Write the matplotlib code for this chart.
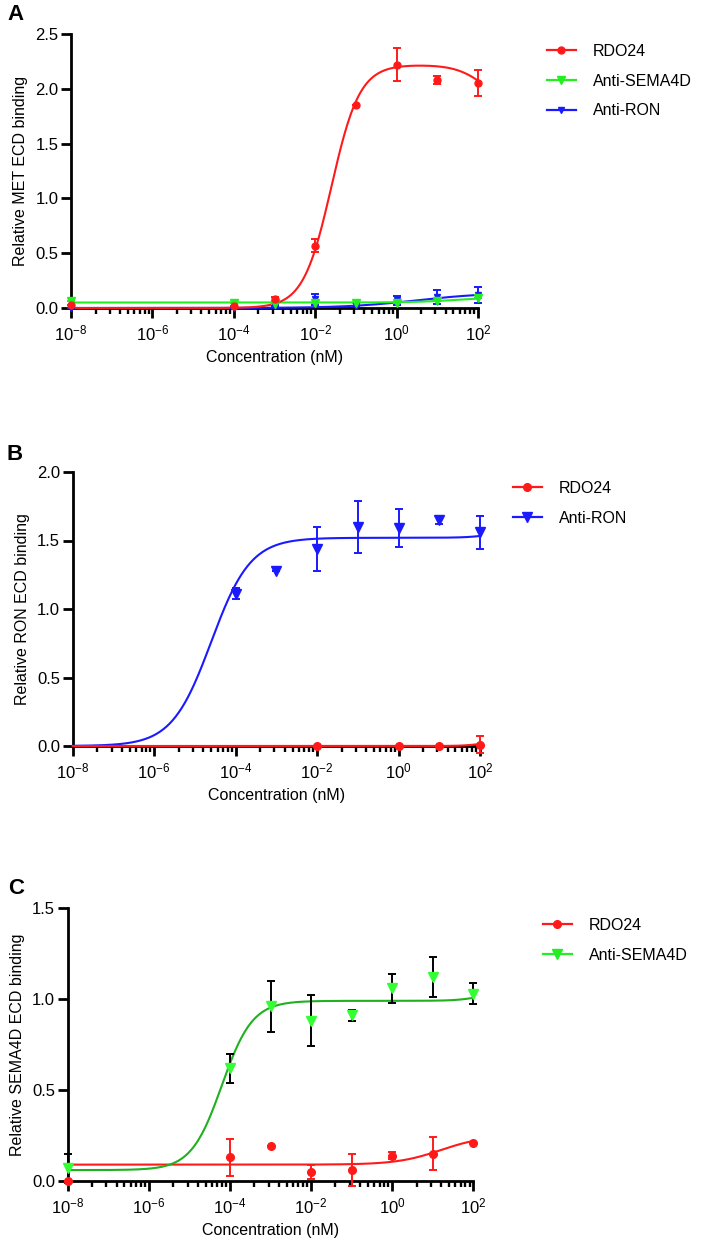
import numpy as np
import matplotlib
matplotlib.use("Agg")
import matplotlib.pyplot as plt
from matplotlib.lines import Line2D
from matplotlib.ticker import FixedLocator, FuncFormatter, MultipleLocator, FormatStrFormatter

plt.rcParams["font.family"] = ["Liberation Sans", "DejaVu Sans"]
plt.rcParams["mathtext.fontset"] = "custom"
plt.rcParams["mathtext.rm"] = "Liberation Sans"
plt.rcParams["mathtext.it"] = "Liberation Sans"

RED = "#ff1a1a"
GREEN = "#22ee22"
GREEN_FIT = "#20b020"
BLUE = "#1a1aff"

conc = [1e-8, 1e-4, 1e-3, 1e-2, 1e-1, 1, 10, 100]

# ---- panel A: MET ECD ----
a_rdo24 = [0.03, 0.02, 0.08, 0.57, 1.85, 2.22, 2.08, 2.05]
a_rdo24_err = [0.0, 0.0, 0.02, 0.06, 0.0, 0.15, 0.04, 0.12]
a_sema = [0.06, 0.05, 0.04, 0.05, 0.05, 0.05, 0.06, 0.09]
a_sema_err = [0.0, 0.0, 0.0, 0.0, 0.0, 0.0, 0.0, 0.0]
a_ron = [0.0, 0.0, 0.02, 0.08, 0.02, 0.07, 0.10, 0.12]
a_ron_err = [0.0, 0.0, 0.0, 0.05, 0.0, 0.04, 0.06, 0.07]

# ---- panel B: RON ECD ----
b_ron_x = [1e-4, 1e-3, 1e-2, 1e-1, 1, 10, 100]
b_ron = [1.11, 1.28, 1.44, 1.60, 1.59, 1.65, 1.56]
b_ron_err = [0.04, 0.0, 0.16, 0.19, 0.14, 0.03, 0.12]
b_rdo24_x = [1e-2, 1, 10, 100]
b_rdo24 = [0.0, 0.0, 0.0, 0.01]
b_rdo24_err = [0.0, 0.0, 0.0, 0.06]

# ---- panel C: SEMA4D ECD ----
c_sema = [0.07, 0.62, 0.96, 0.88, 0.91, 1.06, 1.12, 1.03]
c_sema_err = [0.08, 0.08, 0.14, 0.14, 0.03, 0.08, 0.11, 0.06]
c_rdo24 = [0.0, 0.13, 0.19, 0.05, 0.06, 0.14, 0.15, 0.21]
c_rdo24_err = [0.0, 0.10, 0.0, 0.04, 0.09, 0.02, 0.09, 0.0]

# fitted curves: bottom + sum of (amplitude, logEC50, hill) terms
a_rdo24_fit = (0.0, [(2.22, -1.6, 1.25), (-0.4, 2.2, 1.2)])
a_sema_fit = (0.05, [(0.05, 1.5, 0.8)])
a_ron_fit = (0.0, [(0.14, 0.5, 0.5)])
b_ron_fit = (0.0, [(1.52, -4.6, 0.9), (0.05, 2.3, 1.5)])
b_rdo24_fit = (0.0, [(0.03, 2.0, 2.0)])
c_sema_fit = (0.06, [(0.93, -4.2, 1.15), (0.05, 2.2, 1.5)])
c_rdo24_fit = (0.09, [(0.16, 1.2, 0.8)])


def fit_curve(logx, params):
    bottom, terms = params
    y = np.full_like(logx, bottom)
    for amp, ec50, hill in terms:
        y = y + amp / (1 + 10 ** ((ec50 - logx) * hill))
    return y


xs = np.linspace(-8, 2, 400)

fig = plt.figure(figsize=(7.01, 12.52), dpi=100)
H = 1252.0
W = 701.0
FS = 11.5


def style_axis(ax, ymax, ylabel):
    ax.set_xscale("log")
    ax.set_xlim(1e-8, 1e2)
    ax.set_ylim(0, ymax)
    for s in ["top", "right"]:
        ax.spines[s].set_visible(False)
    for s in ["left", "bottom"]:
        ax.spines[s].set_linewidth(2.0)
    majors = [1e-8, 1e-6, 1e-4, 1e-2, 1e0, 1e2]
    minors = [d * k ** 2 for d in majors[:-1] for k in range(2, 10)]
    ax.xaxis.set_major_locator(FixedLocator(majors))
    ax.xaxis.set_minor_locator(FixedLocator(minors))
    ax.xaxis.set_major_formatter(FuncFormatter(lambda v, p: r"$10^{%d}$" % round(np.log10(v))))
    ax.xaxis.set_minor_formatter(FuncFormatter(lambda v, p: ""))
    ax.yaxis.set_major_locator(MultipleLocator(0.5))
    ax.yaxis.set_major_formatter(FormatStrFormatter("%.1f"))
    ax.tick_params(which="major", length=7, width=2.0, labelsize=12, direction="out")
    ax.tick_params(which="minor", length=4.5, width=1.7, direction="out")
    ax.tick_params(axis="x", pad=4)
    ax.tick_params(axis="y", pad=2)
    ax.set_xlabel("Concentration (nM)", fontsize=FS, labelpad=5)
    ax.set_ylabel(ylabel, fontsize=FS, labelpad=5)


def plot_series(ax, x, y, err, params, color, marker, ms, errcolor=None, fitcolor=None):
    ax.plot(10 ** xs, fit_curve(xs, params), color=fitcolor or color, lw=1.5,
            clip_on=False, zorder=3)
    ax.errorbar(x, y, yerr=err, fmt="none", ecolor=errcolor or color, elinewidth=1.4,
                capsize=3.2, capthick=1.4, clip_on=False, zorder=4)
    ax.plot(x, y, linestyle="none", marker=marker, color=color, ms=ms,
            clip_on=False, zorder=5)


def add_legend(entries, x0, y0):
    handles = [Line2D([0], [0], color=c, lw=1.6, marker=m, ms=ms) for _, c, m, ms in entries]
    labels = [e[0] for e in entries]
    fig.legend(handles, labels, loc="upper left", bbox_to_anchor=(x0 / W, 1 - y0 / H),
               frameon=False, fontsize=FS, handlelength=1.8, handletextpad=1.05,
               labelspacing=0.92, borderpad=0, borderaxespad=0)


# panel A
axA = fig.add_axes([71 / W, 1 - 308 / H, (478 - 71) / W, 274 / H])
style_axis(axA, 2.5, "Relative MET ECD binding")
plot_series(axA, conc, a_ron, a_ron_err, a_ron_fit, BLUE, "v", 4.5)
plot_series(axA, conc, a_sema, a_sema_err, a_sema_fit, GREEN, "v", 6)
plot_series(axA, conc, a_rdo24, a_rdo24_err, a_rdo24_fit, RED, "o", 5)
add_legend([("RDO24", RED, "o", 5), ("Anti-SEMA4D", GREEN, "v", 6),
            ("Anti-RON", BLUE, "v", 4.5)], 547, 44)
fig.text(7 / W, 1 - 15 / H, "A", fontsize=16, fontweight="bold", va="center")

# panel B
axB = fig.add_axes([72.7 / W, 1 - 746 / H, (480 - 72.7) / W, 274 / H])
style_axis(axB, 2.0, "Relative RON ECD binding")
plot_series(axB, b_ron_x, b_ron, b_ron_err, b_ron_fit, BLUE, "v", 7.5)
plot_series(axB, b_rdo24_x, b_rdo24, b_rdo24_err, b_rdo24_fit, RED, "o", 5.5)
add_legend([("RDO24", RED, "o", 5.5), ("Anti-RON", BLUE, "v", 7.5)], 513, 481)
fig.text(7 / W, 1 - 455 / H, "B", fontsize=16, fontweight="bold", va="center")

# panel C
axC = fig.add_axes([67.7 / W, 1 - 1181 / H, (473.3 - 67.7) / W, 273 / H])
style_axis(axC, 1.5, "Relative SEMA4D ECD binding")
plot_series(axC, conc, c_rdo24, c_rdo24_err, c_rdo24_fit, RED, "o", 5.5)
plot_series(axC, conc, c_sema, c_sema_err, c_sema_fit, "#33ff33", "v", 7.5,
            errcolor="black", fitcolor=GREEN_FIT)
add_legend([("RDO24", RED, "o", 5.5), ("Anti-SEMA4D", GREEN, "v", 7.5)], 543, 918)
fig.text(8 / W, 1 - 888 / H, "C", fontsize=16, fontweight="bold", va="center")

fig.savefig("out.png", dpi=100)
